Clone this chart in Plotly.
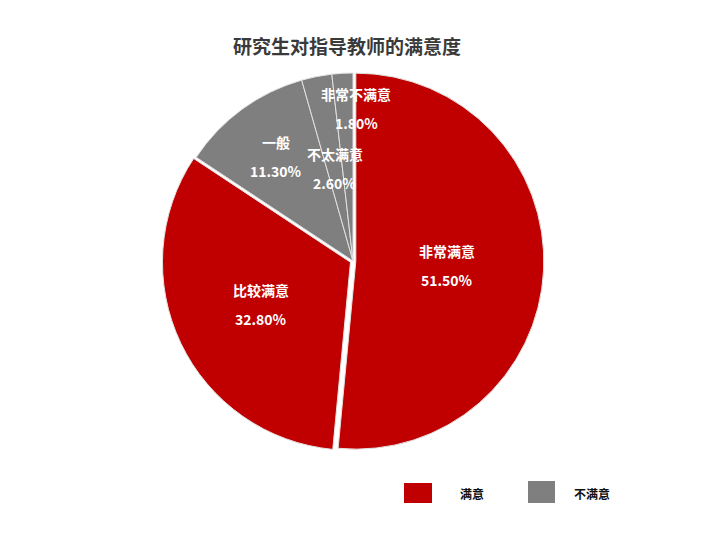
import math
import plotly.graph_objects as go

# data
labels = ["非常满意", "比较满意", "一般", "不太满意", "非常不满意"]
values = [51.5, 32.8, 11.3, 2.6, 1.8]
groups = ["满意", "满意", "不满意", "不满意", "不满意"]
group_names = ["满意", "不满意"]

title_text = "研究生对指导教师的满意度"

group_colors = {"满意": "#C00000", "不满意": "#7F7F7F"}
label_font = "Noto Sans CJK SC"

W, H = 720, 540
# pie geometry (pixels)
cx, cy, R = 353, 261, 188
pulls = [0.015, 0.015, 0, 0, 0]
half = R * (1 + max(pulls))

fig = go.Figure()
fig.add_trace(go.Pie(
    labels=labels,
    values=values,
    sort=False,
    direction="clockwise",
    rotation=0,
    pull=pulls,
    marker=dict(
        colors=[group_colors[g] for g in groups],
        line=dict(color="#E2E2E2", width=1),
    ),
    textinfo="none",
    hoverinfo="label+percent",
    showlegend=False,
    domain=dict(x=[(cx - half) / W, (cx + half) / W],
                y=[1 - (cy + half) / H, 1 - (cy - half) / H]),
))

# slice labels placed along each slice's mid angle
radius_frac = [0.50, 0.54, 0.69, 0.50, 0.81]
x_nudge = [0, 0, 0, 0, 12]
total = sum(values)
acc = 0
annotations = []
for i, (lab, v) in enumerate(zip(labels, values)):
    mid = (acc + v / 2) / total * 2 * math.pi
    acc += v
    px = cx + radius_frac[i] * R * math.sin(mid) + x_nudge[i]
    py = cy - radius_frac[i] * R * math.cos(mid)
    for txt, dy in [(lab, -14.5), ("%.2f%%" % v, 14.5)]:
        annotations.append(dict(
            x=px / W, y=1 - (py + dy) / H, xref="paper", yref="paper",
            xanchor="center", yanchor="middle",
            text="<b>" + txt + "</b>", showarrow=False,
            font=dict(family=label_font, size=14, color="white"),
        ))

# title
annotations.append(dict(
    x=347 / W, y=1 - 46 / H, xref="paper", yref="paper",
    xanchor="center", yanchor="middle",
    text="<b>" + title_text + "</b>", showarrow=False,
    font=dict(family=label_font, size=19, color="#3A3A3A"),
))

# custom legend (grouped categories)
shapes = []
legend_boxes = [(404, 432, 483, 503), (528, 555, 481, 503)]
legend_text_x = [458, 572]
for name, (x0, x1, y0, y1), tx in zip(group_names, legend_boxes, legend_text_x):
    shapes.append(dict(
        type="rect", xref="paper", yref="paper",
        x0=x0 / W, x1=x1 / W, y0=1 - y1 / H, y1=1 - y0 / H,
        fillcolor=group_colors[name], line=dict(width=0),
    ))
    annotations.append(dict(
        x=tx / W, y=1 - 493 / H, xref="paper", yref="paper",
        xanchor="left", yanchor="middle",
        text="<b>" + name + "</b>", showarrow=False,
        font=dict(family=label_font, size=12, color="#111111"),
    ))

fig.update_layout(
    width=W, height=H,
    margin=dict(l=0, r=0, t=0, b=0),
    paper_bgcolor="white",
    plot_bgcolor="white",
    annotations=annotations,
    shapes=shapes,
)

fig.write_html("out.html", config={"displayModeBar": False},
               post_script="document.body.style.margin='0';")
